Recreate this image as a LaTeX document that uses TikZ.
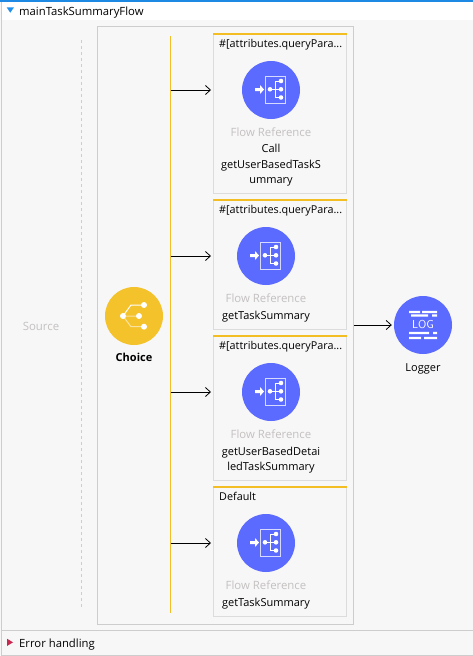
\documentclass[tikz,border=0pt]{standalone}
\usepackage{fontspec}
\setmainfont{Open Sans}
\usetikzlibrary{arrows.meta}
\definecolor{panelbg}{HTML}{F7F7F7}
\definecolor{frameline}{HTML}{CDCDCD}
\definecolor{cardline}{HTML}{DCDCDC}
\definecolor{busyellow}{HTML}{F3BE24}
\definecolor{iconblue}{HTML}{5C6BFF}
\definecolor{choiceyellow}{HTML}{F4C22B}
\definecolor{greytext}{HTML}{C4C0C0}
\definecolor{topblue}{HTML}{1E88E5}
\definecolor{openblue}{HTML}{1E90F0}
\definecolor{closedred}{HTML}{C82850}
\tikzset{
  card/.style={draw=cardline,line width=0.8pt,fill=panelbg,minimum width=132.5pt,anchor=north west,inner sep=0pt},
  label/.style={inner sep=0pt,text height=9.5pt,text depth=1.5pt,font=\fontsize{11}{12}\selectfont},
  cardtitle/.style={label,anchor=west,font=\fontsize{10.8}{12}\selectfont},
  greylabel/.style={label,text=greytext,font=\fontsize{11.4}{12}\selectfont},
  badge/.style={circle,minimum size=58pt,inner sep=0pt},
  flowline/.style={-{Straight Barb[length=5pt,width=9pt]},line width=0.8pt,shorten >=2pt},
}
% flow reference glyph
\newcommand{\flowglyph}[1]{
\begin{scope}[shift={(#1)}]
\draw[white!75!iconblue,line width=0.7pt] (-5.7,-14) rectangle (14.7,13);
\fill[white] (-16,-2) -- (-11,-2) -- (-11,-5) -- (-7,-0.5) -- (-11,4) -- (-11,1) -- (-16,1) -- cycle;
\draw[white,line width=1pt] (-1,-0.7) -- (10,-0.7) (4,-0.7) -- (4,-9) -- (10,-9) (4,-0.7) -- (4,7.5) -- (10,7.5);
\fill[white] (-1,-0.7) circle (2.3) (10,-9) circle (2.3) (10,-0.7) circle (2.3) (10,7.5) circle (2.3);
\end{scope}
}
\begin{document}
\begin{tikzpicture}[x=1pt,y=-1pt]
\useasboundingbox (0,0) rectangle (473,656);
\fill[panelbg] (0,0) rectangle (473,656);
\fill[white] (2,2) rectangle (473,20);
\fill[topblue] (0,0) rectangle (473,2);
\draw[frameline,line width=1pt] (1,2) -- (1,655.5) -- (473,655.5);
\draw[frameline,line width=1pt] (1,630.5) -- (473,630.5);
\fill[openblue] (6.7,7.3) -- (14,7.3) -- (10.3,12.7) -- cycle;
\fill[closedred] (7,638.7) -- (13,642.3) -- (7,646) -- cycle;
\node[label,font=\fontsize{11.3}{12}\selectfont,anchor=west] (flowname) at (19,11) {mainTaskSummaryFlow};
\node[label,font=\fontsize{11.3}{12}\selectfont,anchor=west] (errorname) at (19,643) {Error handling};
\draw[frameline,dash pattern=on 3pt off 3pt,line width=0.8pt] (81.5,40) -- (81.5,609);
\node[greylabel] (source) at (41,326) {Source};
\node[draw=frameline,line width=1pt,anchor=north west,minimum width=256.5pt,minimum height=598.5pt,inner sep=0pt] (router) at (96.5,25.5) {};
\node[badge,fill=choiceyellow] (choice) at (134,316) {};
\draw[white!55!choiceyellow,line width=1pt] (123,316) -- (139,316) (123,316) -- (131,326.7) -- (144,326.7);
\draw[white,line width=1pt] (123,316) -- (131,305) -- (144,305);
\fill[white] (123,316) circle (3) (144,305) circle (3) (139,316) circle (3) (144,326.7) circle (3);
\node[label,font=\fontsize{11}{12}\selectfont\bfseries] (choicename) at (134,357) {Choice};
\coordinate (bustop) at (170.5,36);
\coordinate (busend) at (170.5,613);
\draw[busyellow,line width=1pt] (bustop) -- (busend);
% routes
\node[card,minimum height=160pt] (cardA) at (213,33) {};
\node[card,minimum height=130pt] (cardB) at (213,199) {};
\node[card,minimum height=145pt] (cardC) at (213,335) {};
\node[card,minimum height=130pt] (cardD) at (213,486) {};
\foreach \c in {cardA,cardB,cardC,cardD}
  \fill[busyellow] ([xshift=-0.4pt,yshift=0.4pt]\c.north west) rectangle ([xshift=0.4pt,yshift=-2pt]\c.north east);
\node[cardtitle] (titleA) at (219,43) {\#[attributes.queryPara...};
\node[cardtitle] (titleB) at (219,209) {\#[attributes.queryPara...};
\node[cardtitle] (titleC) at (219,345) {\#[attributes.queryPara...};
\node[cardtitle] (titleD) at (219,496.5) {Default};
\node[badge,fill=iconblue] (refA) at (271,90) {};
\node[badge,fill=iconblue] (refB) at (266,256) {};
\node[badge,fill=iconblue] (refC) at (271,392) {};
\node[badge,fill=iconblue] (refD) at (266,543) {};
\flowglyph{271,90}
\flowglyph{266,256}
\flowglyph{271,392}
\flowglyph{266,543}
\node[greylabel] (kindA) at (271,132) {Flow Reference};
\node[label] (nameA1) at (271,148.5) {Call};
\node[label] (nameA2) at (271,164) {getUserBasedTaskS};
\node[label] (nameA3) at (271,179) {ummary};
\node[greylabel] (kindB) at (266,298) {Flow Reference};
\node[label] (nameB) at (266,315) {getTaskSummary};
\node[greylabel] (kindC) at (271,434) {Flow Reference};
\node[label] (nameC1) at (271,451) {getUserBasedDetai};
\node[label] (nameC2) at (271,466) {ledTaskSummary};
\node[greylabel] (kindD) at (266,585) {Flow Reference};
\node[label] (nameD) at (266,602) {getTaskSummary};
\foreach \r/\c in {refA/cardA,refB/cardB,refC/cardC,refD/cardD}
  \draw[flowline] (bustop |- \r) -- (\c.west |- \r);
% logger
\node[badge,fill=iconblue] (logger) at (423,325) {};
\fill[white] (409,310.8) rectangle (420,313.2) (422,310.8) rectangle (437,313.2)
  (411,314.3) rectangle (428,316.7) (432,314.3) rectangle (437,316.7)
  (409,331.8) rectangle (429,334.2) (433,331.8) rectangle (437,334.2)
  (409,336.8) rectangle (421,339.2) (424,336.8) rectangle (437,339.2);
\node[inner sep=0pt,text=white,font=\sffamily\fontsize{11.5}{12}\selectfont] (logtext) at (423,325) {LOG};
\node[label] (loggername) at (423,367) {Logger};
\draw[flowline] (router.east |- logger) -- (logger.west);
\end{tikzpicture}
\end{document}
